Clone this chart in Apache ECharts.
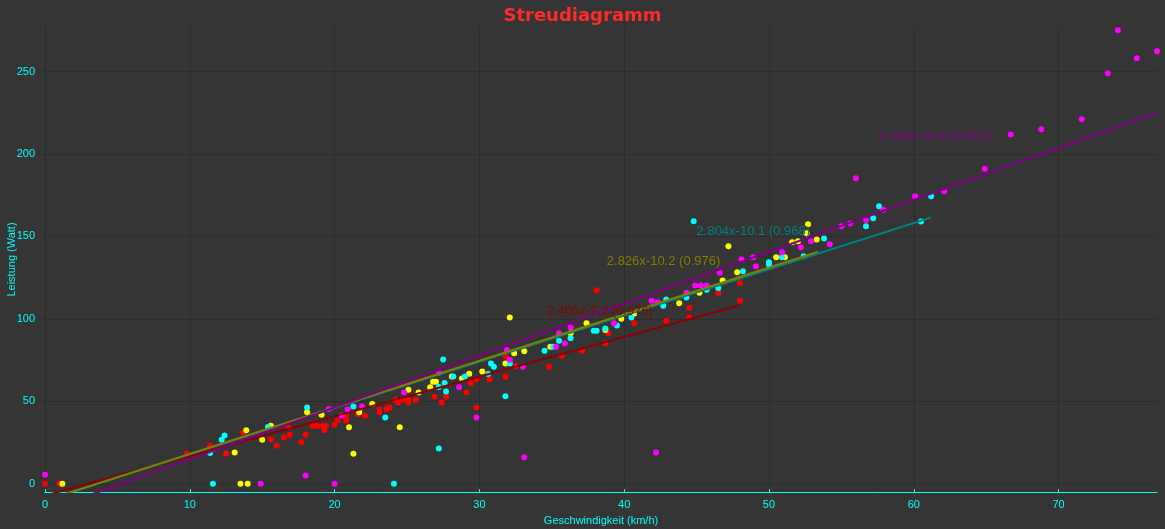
<!DOCTYPE html>
<html>
<head>
<meta charset="utf-8">
<title>Streudiagramm</title>
<script src="https://cdn.jsdelivr.net/npm/echarts@6/dist/echarts.min.js"></script>
<style>
  html, body { margin: 0; padding: 0; background: #353535; }
  #chart { width: 1165px; height: 529px; }
</style>
</head>
<body>
<div id="chart"></div>
<script>
// Messpunkte [Geschwindigkeit km/h, Leistung Watt], je Farbe eine Reihe
var rot = [[0,0],[1.0,0],[9.8,18.2],[11.4,23.1],[12.5,18.4],[13.7,31.1],[15.6,26.9],[16.0,23.1],[16.5,28.1],[16.8,34.2],[16.9,29.7],[17.7,25.1],[18.0,29.7],[18.5,35.2],[18.8,35.2],[19.2,35.2],[19.4,35.2],[19.3,32.4],[20.0,35.8],[20.2,38.4],[20.8,38.4],[20.8,41.3],[21.6,42.1],[22.1,41.3],[23.1,44.9],[23.1,43.3],[23.6,45.3],[23.8,46.3],[24.2,51],[24.4,49.3],[24.7,51],[25.1,49.3],[25.1,51],[25.6,51],[26.9,52.8],[27.4,49.3],[27.7,52.8],[29.1,55.4],[29.4,60.9],[29.8,63.3],[29.8,46.3],[30.7,63.3],[31.8,77.3],[31.8,64.9],[32.5,71.2],[34.8,71],[35.7,77.7],[37.1,80.7],[38.1,117.3],[38.7,85.1],[38.9,91.2],[40.7,97.3],[42.9,98.9],[44.5,106.8],[44.5,100.9],[46.5,115.9],[48.0,111],[48.0,121.8]];
var gelb = [[1.2,0],[13.1,19],[13.9,32.4],[13.5,0],[14.0,0],[15.0,26.7],[15.6,35.2],[18.1,43.3],[19.1,41.9],[21.0,34.2],[21.3,18.2],[21.7,43.3],[22.6,48.4],[24.5,34.2],[25.1,57],[25.8,55.4],[26.6,58.5],[26.8,61.9],[27.0,61.9],[28.1,65.1],[28.8,63.9],[29.3,66.7],[30.2,68.1],[31.8,73],[32.1,100.9],[32.4,79.1],[33.1,80.3],[34.9,83.1],[36.3,91.2],[37.4,97.3],[38.7,93.3],[39.8,100.1],[40.7,103.3],[43.8,109.4],[45.2,115.9],[46.8,123.3],[47.2,144],[47.8,128.3],[50.5,137.3],[51.1,137.3],[51.6,146.4],[52.0,147],[52.6,151.9],[52.7,157.4],[53.3,148.2]];
var cyan = [[11.4,18.6],[11.6,0],[12.2,26.7],[12.4,29.3],[15.4,34.4],[18.1,46.3],[21.3,46.9],[23.5,40.2],[24.1,0],[27.2,21.4],[27.5,75.4],[27.6,61.1],[27.7,56],[27.2,58.7],[28.2,65.1],[29.0,65.1],[30.6,66.6],[30.8,73],[31.0,71],[31.8,53],[32.1,73],[34.5,80.7],[35.1,83.1],[35.5,86.8],[36.3,88.2],[37.9,92.8],[38.1,92.8],[38.7,94.2],[39.5,95.9],[40.5,100.9],[42.7,108],[42.9,111.8],[44.3,113],[44.8,159.2],[45.7,117.7],[46.5,118.7],[48.2,128.8],[50.0,134.3],[50.0,132.9],[50.9,137.3],[52.4,137.9],[53.8,148.7],[56.7,156.1],[57.2,161],[57.6,168.3],[60.5,159],[61.2,174.4]];
var magenta = [[0,5.5],[14.9,0],[18.0,5],[20.0,0],[19.6,45.3],[20.5,41.3],[20.9,45.1],[21.9,46.9],[24.8,55.4],[27.2,67.2],[28.6,58.5],[29.8,40.2],[31.9,81.1],[32.1,75.2],[33.0,71],[33.1,16],[35.3,83.1],[35.5,91.2],[35.9,85.1],[36.3,94.8],[39.3,97.3],[41.9,111],[42.2,19],[42.3,110],[44.3,115.9],[44.9,120.3],[45.3,120.3],[45.7,120.3],[46.6,128],[48.1,136.1],[48.9,137.3],[49.1,131.9],[50.9,140.4],[52.2,143.4],[52.9,147],[54.2,145.2],[55.0,156.1],[55.6,157.9],[56.0,185.3],[56.7,160],[57.9,166.1],[60.1,174.4],[62.1,177.4],[64.9,191.1],[66.7,211.8],[68.8,215],[71.6,221],[73.4,249],[74.1,275],[75.4,258.1],[76.8,262.3]];

// Trendlinien wie im Diagramm beschriftet: Steigung, Achsenabschnitt, R², Ende
var steigung = [2.405, 2.826, 2.804, 3.146];
var abschnitt = [-7.2, -10.2, -10.1, -16.6];
var bestimmt = ['0.976', '0.976', '0.968', '0.957'];
var trendEnde = [48.0, 53.4, 61.2, 76.8];
var labelPos = [[34.65, 104.7], [38.8, 134.7], [45.0, 153.2], [57.5, 210.6]];

var xTicks = [0, 10, 20, 30, 40, 50, 60, 70];
var yTicks = [0, 50, 100, 150, 200, 250];

var punktFarben = ['#ff0000', '#ffff00', '#00ffff', '#ff00ff'];
var trendFarben = ['#8b0000', '#808000', '#008080', '#800080'];
var reihen = [rot, gelb, cyan, magenta];
var trendReihenfolge = [0, 2, 1, 3]; // olive liegt über teal

var chart = echarts.init(document.getElementById('chart'));

var series = [];
reihen.forEach(function (d, i) {
  series.push({
    type: 'scatter',
    data: d,
    symbolSize: 6,
    itemStyle: { color: punktFarben[i], opacity: 1 },
    z: 2
  });
});
trendReihenfolge.forEach(function (i) {
  var m = steigung[i], b = abschnitt[i], e = trendEnde[i];
  series.push({
    type: 'line',
    data: [[0, b], [e, +(m * e + b).toFixed(2)]],
    showSymbol: false,
    lineStyle: { color: trendFarben[i], width: 2 },
    z: 3,
    markPoint: {
      symbol: 'circle',
      symbolSize: 0,
      silent: true,
      label: {
        show: true,
        position: 'right',
        distance: 0,
        color: trendFarben[i],
        fontFamily: 'Liberation Sans',
        fontSize: 13,
        formatter: m.toFixed(3) + 'x' + b.toFixed(1) + ' (' + bestimmt[i] + ')'
      },
      data: [{ coord: labelPos[i] }]
    }
  });
});

var option = {
  backgroundColor: '#353535',
  animation: false,
  title: {
    text: 'Streudiagramm',
    left: 'center',
    top: 2,
    textStyle: { color: '#ff2b2b', fontFamily: 'DejaVu Sans', fontWeight: 'bold', fontSize: 18 }
  },
  grid: { left: 45, right: 8, top: 27, bottom: 37, containLabel: false, outerBoundsMode: 'none' },
  xAxis: {
    type: 'value',
    min: 0,
    max: 76.8,
    name: 'Geschwindigkeit (km/h)',
    nameLocation: 'middle',
    nameGap: 23,
    nameMoveOverlap: false,
    nameTextStyle: { color: '#00ffff', fontSize: 11, fontFamily: 'Liberation Sans' },
    axisLine: { onZero: false, lineStyle: { color: '#00ffff', width: 1 } },
    axisTick: { show: true, inside: true, length: 3, lineStyle: { color: '#00ffff' }, customValues: xTicks },
    axisLabel: { color: '#00ffff', fontSize: 11, fontFamily: 'Liberation Sans', margin: 7, customValues: xTicks },
    splitLine: { show: true, lineStyle: { color: '#2c2c2c' } }
  },
  yAxis: {
    type: 'value',
    min: -5,
    max: 277,
    name: 'Leistung (Watt)',
    nameLocation: 'middle',
    nameGap: 28,
    nameMoveOverlap: false,
    nameTextStyle: { color: '#00ffff', fontSize: 11, fontFamily: 'Liberation Sans' },
    axisLine: { show: true, onZero: false, lineStyle: { color: '#2c2c2c' } },
    axisTick: { show: true, length: 3, lineStyle: { color: '#2c2c2c' }, customValues: yTicks },
    axisLabel: { color: '#00ffff', fontSize: 11, fontFamily: 'Liberation Sans', margin: 10, customValues: yTicks },
    splitLine: { show: true, lineStyle: { color: '#2c2c2c' } }
  },
  series: series
};

chart.setOption(option);
</script>
</body>
</html>
